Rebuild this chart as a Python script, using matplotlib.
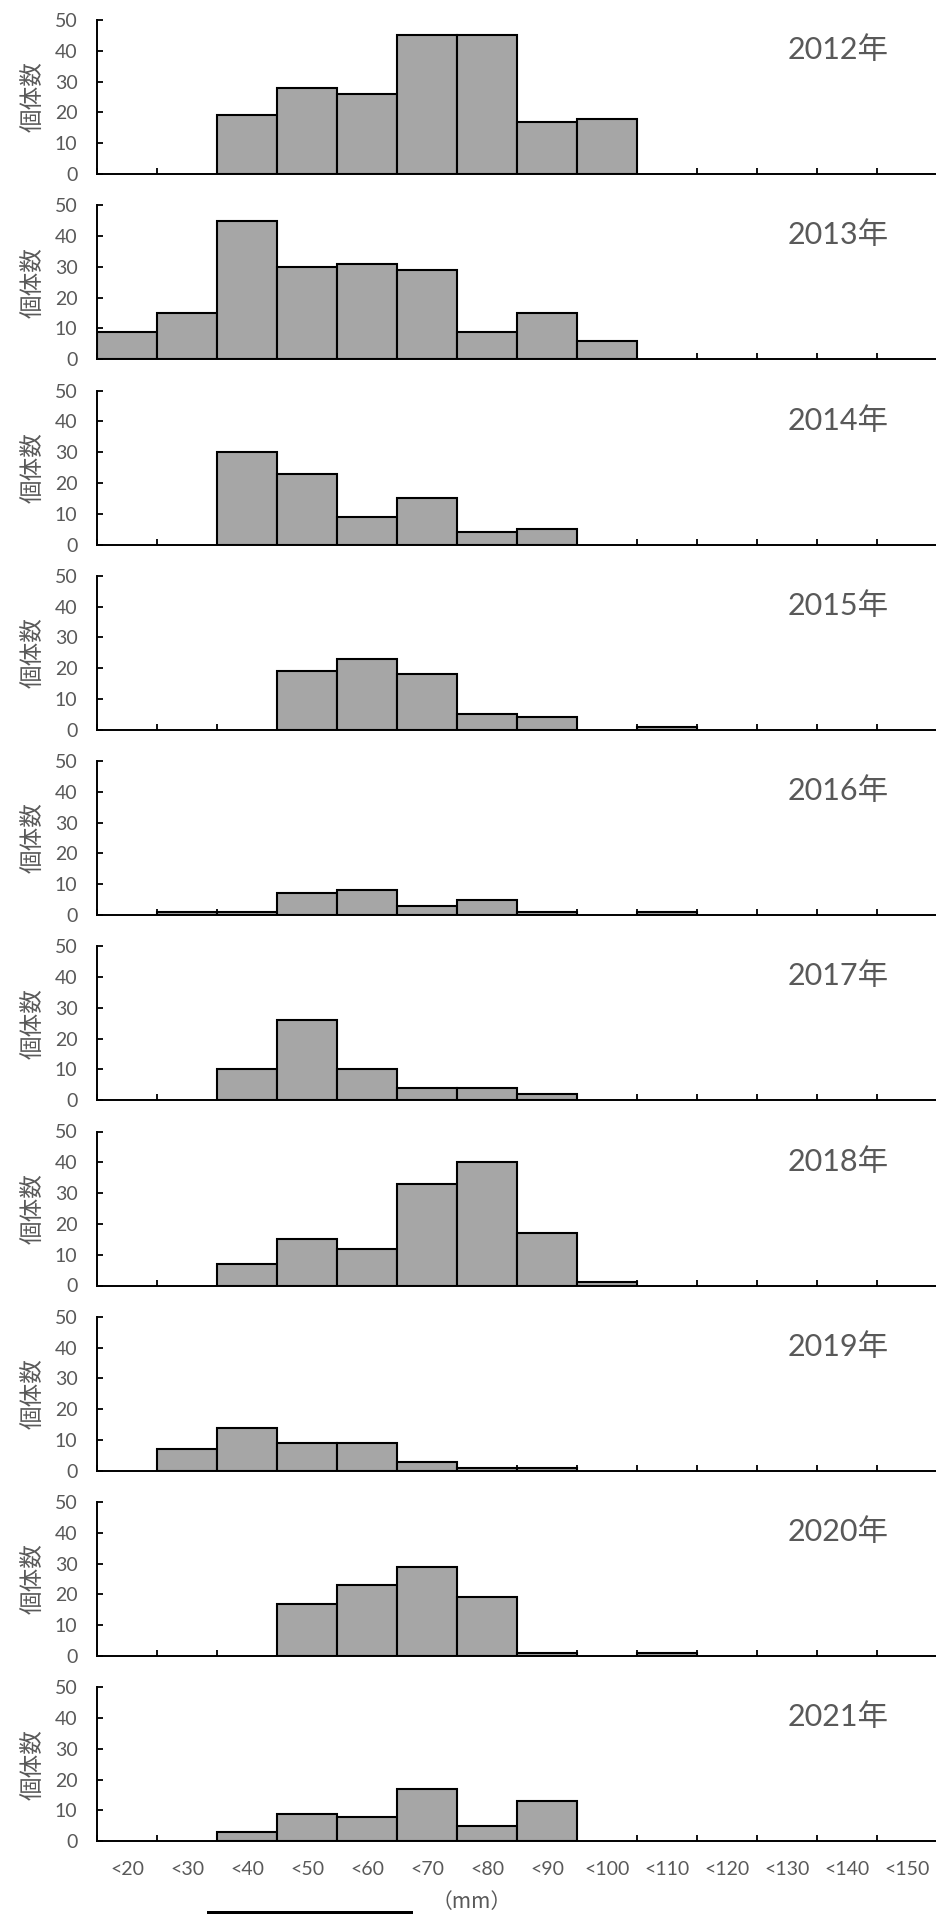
import numpy as np
import matplotlib
matplotlib.use("Agg")
import matplotlib.pyplot as plt
from matplotlib.patches import Rectangle

plt.rcParams['font.family'] = ['Lato', 'Noto Sans CJK JP', 'DejaVu Sans']

categories = ["<20", "<30", "<40", "<50", "<60", "<70", "<80", "<90",
              "<100", "<110", "<120", "<130", "<140", "<150"]
years = ["2012年", "2013年", "2014年", "2015年", "2016年",
         "2017年", "2018年", "2019年", "2020年", "2021年"]

counts_2012 = [0, 0, 19, 28, 26, 45, 45, 17, 18, 0, 0, 0, 0, 0]
counts_2013 = [9, 15, 45, 30, 31, 29, 9, 15, 6, 0, 0, 0, 0, 0]
counts_2014 = [0, 0, 30, 23, 9, 15, 4, 5, 0, 0, 0, 0, 0, 0]
counts_2015 = [0, 0, 0, 19, 23, 18, 5, 4, 0, 1, 0, 0, 0, 0]
counts_2016 = [0, 1, 1, 7, 8, 3, 5, 1, 0, 1, 0, 0, 0, 0]
counts_2017 = [0, 0, 10, 26, 10, 4, 4, 2, 0, 0, 0, 0, 0, 0]
counts_2018 = [0, 0, 7, 15, 12, 33, 40, 17, 1, 0, 0, 0, 0, 0]
counts_2019 = [0, 7, 14, 9, 9, 3, 1, 1, 0, 0, 0, 0, 0, 0]
counts_2020 = [0, 0, 0, 17, 23, 29, 19, 1, 0, 1, 0, 0, 0, 0]
counts_2021 = [0, 0, 3, 9, 8, 17, 5, 13, 0, 0, 0, 0, 0, 0]

all_counts = [counts_2012, counts_2013, counts_2014, counts_2015, counts_2016,
              counts_2017, counts_2018, counts_2019, counts_2020, counts_2021]

y_ticks = [0, 10, 20, 30, 40, 50]

W, H = 936, 1914
fig = plt.figure(figsize=(W / 100, H / 100), dpi=100)

text_color = "#595959"
cjk = ['Noto Sans CJK JP', 'DejaVu Sans']
left_px = 97
axw_px = 840
axh_px = 154
zero0 = 174
step = 185.25

n = len(categories)
for k, (year, counts) in enumerate(zip(years, all_counts)):
    zero_px = zero0 + k * step
    ax = fig.add_axes([left_px / W, 1 - zero_px / H, axw_px / W, axh_px / H])
    vals = np.array(counts, dtype=float)
    xs = np.arange(n) + 0.5
    mask = vals > 0
    ax.bar(xs[mask], vals[mask], width=1.0, color="#a6a6a6",
           edgecolor="black", linewidth=1.5, zorder=2)
    ax.set_xlim(0, n)
    ax.set_ylim(0, 50)
    for s in ["top", "right"]:
        ax.spines[s].set_visible(False)
    for s in ["left", "bottom"]:
        ax.spines[s].set_color("black")
        ax.spines[s].set_linewidth(1.4)
        ax.spines[s].set_zorder(3)
    ax.set_yticks(y_ticks)
    ax.set_yticklabels([str(v) for v in y_ticks])
    ax.tick_params(axis="y", direction="in", length=4.5, width=1.3,
                   colors="black", labelcolor=text_color, labelsize=14, pad=14)
    ax.set_xticks(np.arange(n + 1))
    ax.set_xticklabels([])
    ax.tick_params(axis="x", which="major", direction="in", length=4.5,
                   width=1.3, colors="black")
    if k == len(years) - 1:
        ax.set_xticks(xs, minor=True)
        ax.set_xticklabels(categories, minor=True)
        ax.tick_params(axis="x", which="minor", length=0, labelsize=14,
                       labelcolor=text_color, pad=14)
    ax.text(0.882, 0.805, year, transform=ax.transAxes, ha="center",
            va="center", fontsize=22, color=text_color)
    fig.text(33 / W, 1 - (zero_px - axh_px / 2) / H, "個体数", rotation=90,
             ha="center", va="center", fontsize=17, color=text_color,
             family=cjk)

fig.text(432 / W, 1 - 1902 / H, "（mm）", ha="left", va="center",
         fontsize=15, color=text_color, family=cjk)
fig.patches.append(Rectangle((207 / W, 0), (413 - 207) / W, 3.5 / H,
                             transform=fig.transFigure, facecolor="black",
                             edgecolor="none"))

fig.savefig("out.png", dpi=100)
